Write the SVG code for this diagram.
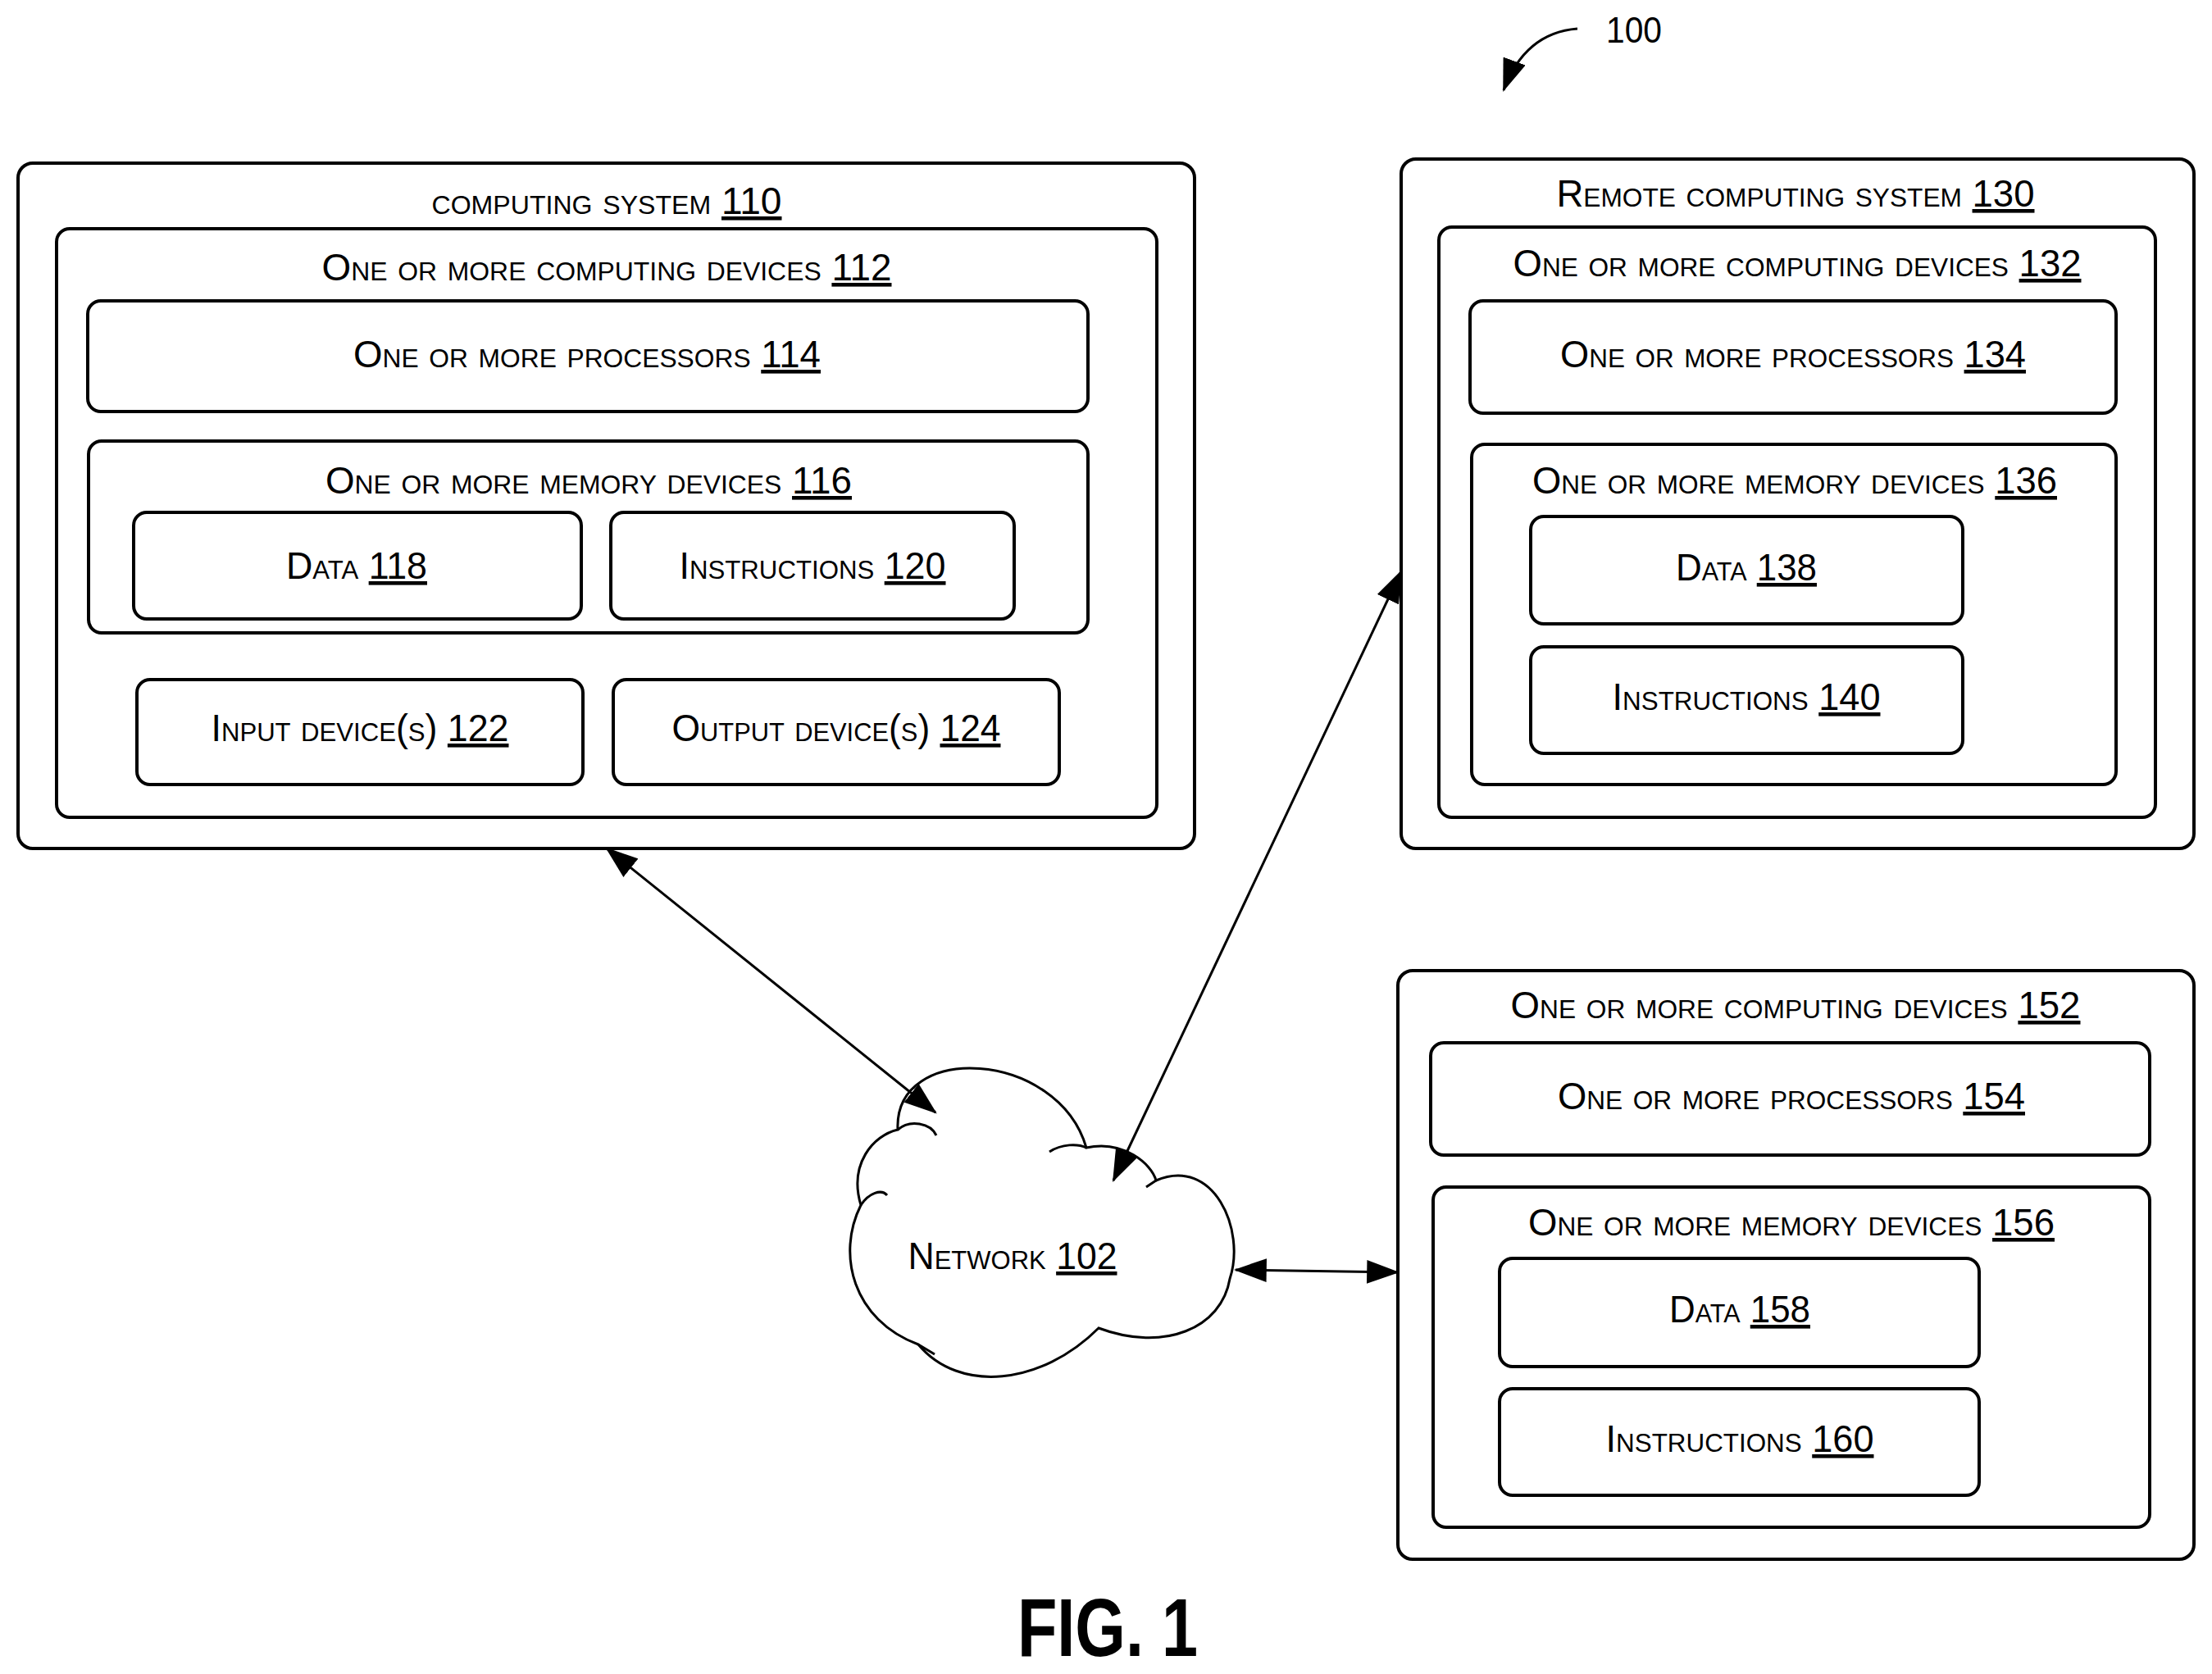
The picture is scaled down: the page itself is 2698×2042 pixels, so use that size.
<svg xmlns="http://www.w3.org/2000/svg" width="2698" height="2042" viewBox="0 0 2698 2042">
<style>
rect{fill:#fff;stroke:#000;stroke-width:4}
text{font-family:"Liberation Sans",Arial,sans-serif;font-size:46px;font-variant:small-caps;text-anchor:middle;fill:#000}
.u{text-decoration:underline}
.c{fill:none;stroke:#000;stroke-width:3}
</style>
<defs>
<marker id="a" markerUnits="userSpaceOnUse" markerWidth="40" markerHeight="30" refX="34" refY="13" orient="auto-start-reverse" viewBox="0 0 36 26"><path d="M0,0 L36,13 L0,26 Z" fill="#000"/></marker>
</defs>
<rect x="0" y="0" width="2698" height="2042" style="stroke:none"/>
<g id="n110"><rect x="22" y="199" width="1435" height="836" rx="18"/><text x="740" y="261" textLength="427" lengthAdjust="spacingAndGlyphs">computing system <tspan class="u">110</tspan></text></g>
<g id="n112"><rect x="69" y="279" width="1342" height="718" rx="16"/><text x="740" y="342" textLength="695" lengthAdjust="spacingAndGlyphs">One or more computing devices <tspan class="u">112</tspan></text></g>
<g id="n114"><rect x="107" y="367" width="1220" height="135" rx="16"/><text x="716" y="448" textLength="570" lengthAdjust="spacingAndGlyphs">One or more processors <tspan class="u">114</tspan></text></g>
<g id="n116"><rect x="108" y="538" width="1219" height="234" rx="16"/><text x="718" y="602" textLength="642" lengthAdjust="spacingAndGlyphs">One or more memory devices <tspan class="u">116</tspan></text></g>
<g id="n118"><rect x="163" y="625" width="546" height="130" rx="16"/><text x="435" y="706" textLength="172" lengthAdjust="spacingAndGlyphs">Data <tspan class="u">118</tspan></text></g>
<g id="n120"><rect x="745" y="625" width="492" height="130" rx="16"/><text x="991" y="706" textLength="325" lengthAdjust="spacingAndGlyphs">Instructions <tspan class="u">120</tspan></text></g>
<g id="n122"><rect x="167" y="829" width="544" height="128" rx="16"/><text x="439" y="904" textLength="363" lengthAdjust="spacingAndGlyphs">Input device(s) <tspan class="u">122</tspan></text></g>
<g id="n124"><rect x="748" y="829" width="544" height="128" rx="16"/><text x="1020" y="904" textLength="401" lengthAdjust="spacingAndGlyphs">Output device(s) <tspan class="u">124</tspan></text></g>
<g id="n130"><rect x="1709" y="194" width="967" height="841" rx="18"/><text x="2190" y="252" textLength="583" lengthAdjust="spacingAndGlyphs">Remote computing system <tspan class="u">130</tspan></text></g>
<g id="n132"><rect x="1755" y="277" width="874" height="720" rx="16"/><text x="2192" y="337" textLength="693" lengthAdjust="spacingAndGlyphs">One or more computing devices <tspan class="u">132</tspan></text></g>
<g id="n134"><rect x="1793" y="367" width="788" height="137" rx="16"/><text x="2187" y="448" textLength="568" lengthAdjust="spacingAndGlyphs">One or more processors <tspan class="u">134</tspan></text></g>
<g id="n136"><rect x="1795" y="542" width="786" height="415" rx="16"/><text x="2189" y="602" textLength="640" lengthAdjust="spacingAndGlyphs">One or more memory devices <tspan class="u">136</tspan></text></g>
<g id="n138"><rect x="1867" y="630" width="527" height="131" rx="16"/><text x="2130" y="708" textLength="172" lengthAdjust="spacingAndGlyphs">Data <tspan class="u">138</tspan></text></g>
<g id="n140"><rect x="1867" y="789" width="527" height="130" rx="16"/><text x="2130" y="866" textLength="327" lengthAdjust="spacingAndGlyphs">Instructions <tspan class="u">140</tspan></text></g>
<g id="n152"><rect x="1705" y="1184" width="971" height="718" rx="18"/><text x="2190" y="1242" textLength="695" lengthAdjust="spacingAndGlyphs">One or more computing devices <tspan class="u">152</tspan></text></g>
<g id="n154"><rect x="1745" y="1272" width="877" height="137" rx="16"/><text x="2185" y="1353" textLength="570" lengthAdjust="spacingAndGlyphs">One or more processors <tspan class="u">154</tspan></text></g>
<g id="n156"><rect x="1748" y="1448" width="874" height="415" rx="16"/><text x="2185" y="1507" textLength="642" lengthAdjust="spacingAndGlyphs">One or more memory devices <tspan class="u">156</tspan></text></g>
<g id="n158"><rect x="1829" y="1535" width="585" height="132" rx="16"/><text x="2122" y="1613" textLength="172" lengthAdjust="spacingAndGlyphs">Data <tspan class="u">158</tspan></text></g>
<g id="n160"><rect x="1829" y="1694" width="585" height="130" rx="16"/><text x="2122" y="1771" textLength="327" lengthAdjust="spacingAndGlyphs">Instructions <tspan class="u">160</tspan></text></g>
<g id="n102">
<path d="M1120 1640 C1040 1610 1020 1530 1050 1470 C1035 1420 1065 1385 1095 1378 C1090 1270 1290 1280 1325 1400 C1370 1390 1405 1420 1410 1440 C1480 1410 1520 1500 1500 1560 C1490 1620 1420 1650 1340 1620 C1270 1690 1170 1700 1120 1640 Z" fill="#fff" stroke="#000" stroke-width="3"/>
<path class="c" d="M1050 1470 C1060 1455 1075 1450 1082 1458 M1095 1378 C1110 1365 1135 1370 1142 1385 M1280 1405 C1295 1395 1315 1395 1325 1400 M1410 1440 L1398 1448 M1120 1640 L1140 1652"/>
<text x="1235" y="1548" textLength="255" lengthAdjust="spacingAndGlyphs">Network <tspan class="u">102</tspan></text>
</g>
<g id="connectors">
<line class="c" x1="740" y1="1035" x2="1141" y2="1357" marker-start="url(#a)" marker-end="url(#a)"/>
<line class="c" x1="1709" y1="697" x2="1358" y2="1440" marker-start="url(#a)" marker-end="url(#a)"/>
<line class="c" x1="1507" y1="1549" x2="1705" y2="1552" marker-start="url(#a)" marker-end="url(#a)"/>
<path class="c" d="M1924 35 Q1860 40 1834 110" marker-end="url(#a)"/>
</g>
<text x="1993" y="52" style="font-variant:normal;font-size:44px" textLength="68" lengthAdjust="spacingAndGlyphs">100</text>
<text x="1351" y="2020" style="font-variant:normal;font-weight:bold;font-size:100px" textLength="220" lengthAdjust="spacingAndGlyphs">FIG. 1</text>
</svg>
